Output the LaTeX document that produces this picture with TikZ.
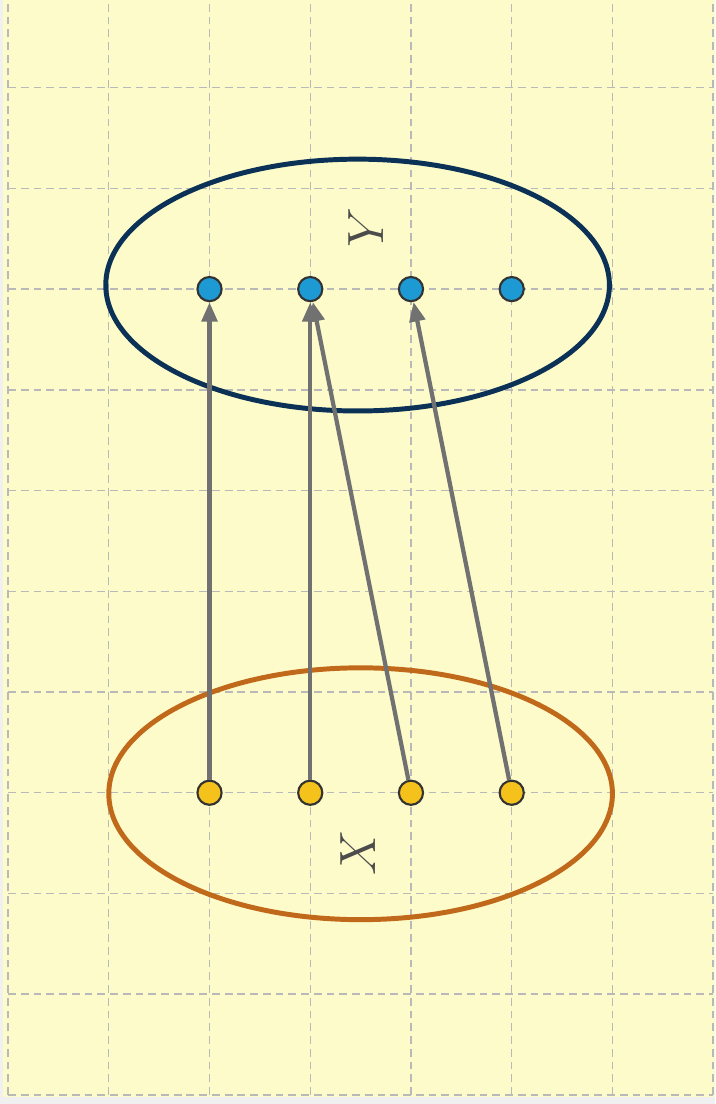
\documentclass[tikz,border=0pt]{standalone}
\usepackage{amsmath,amssymb}
\usetikzlibrary{arrows.meta}
\usepackage{xcolor}
\definecolor{paper}{HTML}{FDFBC9}
\definecolor{setY}{HTML}{0B3256}
\definecolor{setX}{HTML}{C0691A}
\definecolor{dotY}{HTML}{1D9AD3}
\definecolor{dotX}{HTML}{F5C21C}
\definecolor{mapgray}{HTML}{717171}
\begin{document}
\begin{tikzpicture}[dotnode/.style={circle, draw=black!80, line width=0.6pt, minimum size=0.24cm, inner sep=0pt},
    mapto/.style={draw=mapgray, line width=1.2pt, -{Triangle[length=5.5pt,width=4.4pt]}},
    setlabel/.style={text=black!70, font=\Large, rotate=90}]
    \useasboundingbox[fill=gray!12] (-0.08,-0.09) rectangle (7.02,10.87);
    \fill[paper] (-0.05,-0.02) rectangle (7.02,10.87);
    \draw[gray!55, line width=0.4pt, dash pattern=on 2.2pt off 1.4pt] (0,0) grid (7,10.87);
    % the two sets
    \draw[setY, line width=1.4pt] (3.47,8.04) ellipse (2.5 and 1.25);
    \draw[setX, line width=1.4pt] (3.5,2.99) ellipse (2.5 and 1.25);
    \node[setlabel] (Y) at (3.55,8.61) {$Y$};
    \node[setlabel] (X) at (3.47,2.4) {$X$};
    % elements
    \node[dotnode, fill=dotY] (y1) at (2,8) {};
    \node[dotnode, fill=dotY] (y2) at (3,8) {};
    \node[dotnode, fill=dotY] (y3) at (4,8) {};
    \node[dotnode, fill=dotY] (y4) at (5,8) {};
    \node[dotnode, fill=dotX] (x1) at (2,3) {};
    \node[dotnode, fill=dotX] (x2) at (3,3) {};
    \node[dotnode, fill=dotX] (x3) at (4,3) {};
    \node[dotnode, fill=dotX] (x4) at (5,3) {};
        \draw[mapto] (x1) -- (y1);
        \draw[mapto] (x2) -- (y2);
        \draw[mapto] (x3) -- (y2);
        \draw[mapto] (x4) -- (y3);
\end{tikzpicture}
\end{document}
